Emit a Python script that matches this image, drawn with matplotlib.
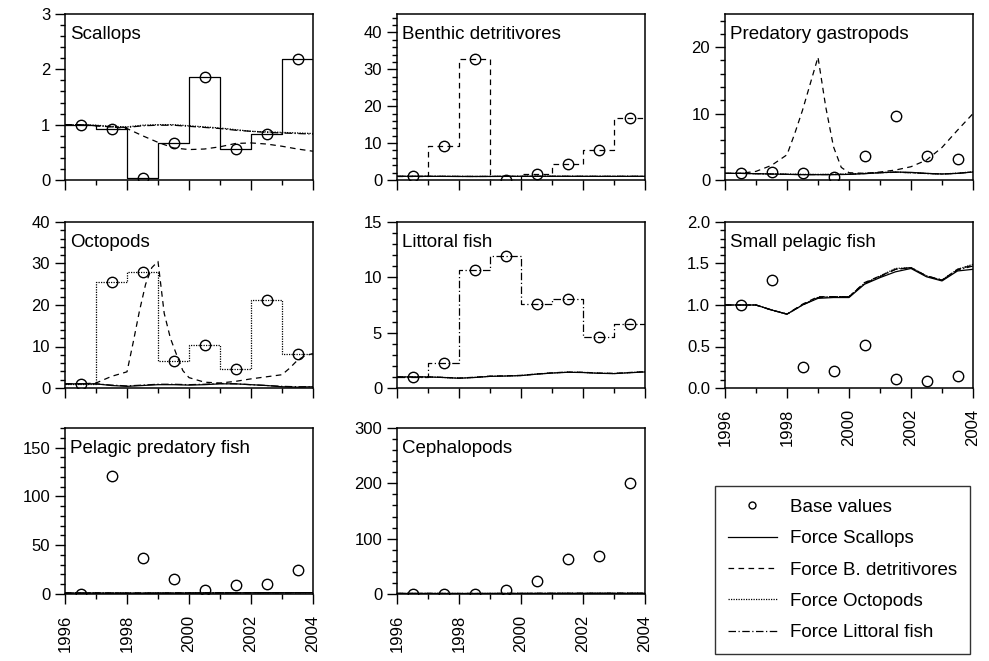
import matplotlib
matplotlib.use("Agg")
import matplotlib.pyplot as plt
from matplotlib.lines import Line2D
from matplotlib.ticker import MultipleLocator, FormatStrFormatter

plt.rcParams['font.family'] = ['Liberation Sans', 'DejaVu Sans']

# time axes
base_years = [1996.5, 1997.5, 1998.5, 1999.5, 2000.5, 2001.5, 2002.5, 2003.5]
step_years = [1996, 1997, 1998, 1999, 2000, 2001, 2002, 2003, 2004]
half_years = [1996, 1996.5, 1997, 1997.5, 1998, 1998.5, 1999, 1999.5, 2000,
              2000.5, 2001, 2001.5, 2002, 2002.5, 2003, 2003.5, 2004]

# base values (circles)
base_scallops = [1.0, 0.93, 0.04, 0.67, 1.87, 0.56, 0.83, 2.18]
base_benthic = [1.0, 9.2, 32.7, 0.1, 1.7, 4.4, 8.1, 16.7]
base_gastro = [1.0, 1.27, 1.1, 0.5, 3.55, 9.6, 3.65, 3.1]
base_octo = [1.0, 25.5, 28.0, 6.5, 10.3, 4.5, 21.3, 8.3]
base_littoral = [1.0, 2.3, 10.7, 11.9, 7.6, 8.0, 4.6, 5.8]
base_smallpel = [1.0, 1.3, 0.25, 0.21, 0.52, 0.11, 0.09, 0.15]
base_pelpred = [0.5, 120.5, 37.0, 15.0, 4.5, 9.0, 10.5, 24.5]
base_cephalo = [0.5, 0.0, 0.0, 7.5, 23.0, 63.0, 69.0, 200.0]

# model runs (half-year samples unless own time list given)
scallops_det = [1.0, 1.0, 0.98, 0.96, 0.93, 0.8, 0.68, 0.58, 0.55, 0.56, 0.6, 0.66, 0.67, 0.65, 0.61, 0.56, 0.52]
scallops_oct = [1.0, 1.0, 0.99, 0.97, 0.96, 0.99, 1.0, 1.0, 0.98, 0.96, 0.94, 0.91, 0.88, 0.87, 0.86, 0.85, 0.84]
scallops_lit = [1.0, 1.0, 0.98, 0.96, 0.95, 0.98, 0.99, 0.99, 0.97, 0.95, 0.93, 0.9, 0.88, 0.86, 0.85, 0.84, 0.83]

benthic_sca = [1.0, 1.0, 1.0, 0.98, 0.96, 0.95, 0.96, 0.98, 1.0, 1.0, 1.0, 1.0, 0.99, 0.98, 0.98, 0.99, 1.0]
benthic_oct = [1.0, 1.0, 1.0, 1.0, 0.98, 0.97, 0.98, 1.0, 1.01, 1.02, 1.02, 1.01, 1.0, 1.0, 1.0, 1.0, 1.0]
benthic_lit = [1.0, 1.0, 1.0, 0.99, 0.97, 0.96, 0.97, 0.99, 1.0, 1.01, 1.01, 1.0, 1.0, 0.99, 0.99, 1.0, 1.0]

gastro_sca = [1.0, 1.0, 0.95, 0.9, 0.85, 0.8, 0.8, 0.8, 0.85, 0.95, 1.1, 1.2, 1.15, 1.0, 0.9, 1.0, 1.2]
gastro_oct = [1.0, 1.0, 0.96, 0.92, 0.88, 0.85, 0.84, 0.85, 0.9, 1.0, 1.12, 1.18, 1.1, 0.98, 0.92, 1.02, 1.25]
gastro_lit = [1.0, 1.0, 0.95, 0.9, 0.86, 0.82, 0.82, 0.83, 0.88, 0.97, 1.1, 1.16, 1.1, 0.97, 0.9, 1.0, 1.22]
gastro_det_t = [1996, 1996.5, 1997, 1997.5, 1998, 1998.25, 1998.5, 1998.75, 1999, 1999.25,
                1999.5, 1999.75, 2000, 2000.5, 2001, 2001.5, 2002, 2002.5, 2003, 2003.5, 2004]
gastro_det = [1.0, 1.0, 1.3, 2.2, 3.8, 7.0, 10.5, 14.5, 18.5, 11.0,
              5.0, 1.9, 1.1, 1.0, 1.2, 1.5, 2.0, 3.0, 4.9, 7.5, 10.0]

octo_sca = [1.0, 1.0, 1.0, 0.6, 0.4, 0.6, 0.8, 0.8, 0.7, 0.8, 1.0, 1.0, 0.8, 0.6, 0.3, 0.2, 0.3]
octo_lit = [1.0, 1.0, 1.0, 0.7, 0.5, 0.7, 0.9, 0.9, 0.8, 0.9, 1.1, 1.0, 0.8, 0.6, 0.4, 0.3, 0.3]
octo_det_t = [1996, 1996.5, 1997, 1997.5, 1998, 1998.2, 1998.4, 1998.6, 1998.8, 1999, 1999.2,
              1999.4, 1999.6, 1999.8, 2000, 2000.5, 2001, 2001.5, 2002, 2002.5, 2003,
              2003.25, 2003.5, 2003.75, 2004]
octo_det = [1.0, 1.0, 1.2, 2.8, 3.9, 11.0, 18.5, 25.0, 29.0, 30.5, 18.0,
            12.0, 8.0, 4.2, 2.5, 1.4, 1.2, 1.6, 2.2, 2.7, 3.2,
            4.8, 6.7, 7.8, 8.3]

litt_sca = [1.0, 1.0, 1.0, 0.95, 0.88, 0.95, 1.05, 1.08, 1.12, 1.25, 1.35, 1.42, 1.4, 1.33, 1.3, 1.38, 1.45]
litt_det = [1.0, 1.0, 1.0, 0.96, 0.9, 0.97, 1.07, 1.1, 1.14, 1.27, 1.37, 1.44, 1.42, 1.35, 1.32, 1.4, 1.48]
litt_oct = [1.0, 1.0, 1.0, 0.95, 0.89, 0.96, 1.06, 1.09, 1.13, 1.26, 1.36, 1.43, 1.41, 1.34, 1.31, 1.39, 1.47]

smallpel_sca = [1.0, 1.0, 1.0, 0.94, 0.89, 1.0, 1.08, 1.09, 1.09, 1.25, 1.33, 1.4, 1.44, 1.34, 1.29, 1.41, 1.43]
smallpel_det = [1.0, 1.0, 1.0, 0.94, 0.89, 1.01, 1.1, 1.1, 1.1, 1.27, 1.35, 1.43, 1.45, 1.35, 1.3, 1.43, 1.48]
smallpel_oct = [1.0, 1.0, 1.0, 0.94, 0.89, 1.0, 1.09, 1.1, 1.1, 1.26, 1.35, 1.44, 1.45, 1.35, 1.3, 1.43, 1.49]
smallpel_lit = [1.0, 1.0, 1.0, 0.94, 0.89, 1.0, 1.09, 1.1, 1.1, 1.26, 1.34, 1.43, 1.45, 1.35, 1.3, 1.42, 1.47]

pelpred_sca = [1.0, 1.0, 1.0, 0.95, 0.9, 0.9, 0.95, 1.0, 1.05, 1.1, 1.15, 1.2, 1.25, 1.3, 1.3, 1.35, 1.4]
pelpred_det = [1.0, 1.0, 1.0, 0.96, 0.92, 0.92, 0.97, 1.02, 1.07, 1.12, 1.17, 1.22, 1.27, 1.32, 1.32, 1.37, 1.42]
pelpred_oct = [1.0, 1.0, 1.0, 0.95, 0.91, 0.91, 0.96, 1.01, 1.06, 1.11, 1.16, 1.21, 1.26, 1.31, 1.31, 1.36, 1.41]
pelpred_lit = [1.0, 1.0, 1.0, 0.95, 0.9, 0.9, 0.95, 1.0, 1.05, 1.1, 1.15, 1.2, 1.25, 1.3, 1.3, 1.35, 1.4]

cephalo_sca = [1.0, 1.0, 1.0, 0.95, 0.9, 0.92, 0.96, 1.0, 1.05, 1.1, 1.15, 1.2, 1.22, 1.25, 1.28, 1.3, 1.32]
cephalo_det = [1.0, 1.0, 1.0, 0.96, 0.92, 0.94, 0.98, 1.02, 1.07, 1.12, 1.17, 1.22, 1.24, 1.27, 1.3, 1.32, 1.35]
cephalo_oct = [1.0, 1.0, 1.0, 0.95, 0.91, 0.93, 0.97, 1.01, 1.06, 1.11, 1.16, 1.21, 1.23, 1.26, 1.29, 1.31, 1.33]
cephalo_lit = [1.0, 1.0, 1.0, 0.95, 0.9, 0.92, 0.96, 1.0, 1.05, 1.1, 1.15, 1.2, 1.22, 1.25, 1.28, 1.3, 1.32]

# line styles for the four forcing runs
ls_sca = '-'
ls_det = (0, (4.5, 3.5))
ls_oct = (0, (1, 1))
ls_lit = (0, (6, 2, 1, 2))

lw = 0.9
fs_tick = 12
fs_lab = 13.5

W, H = 989, 661
col_left = [65, 397, 725]
row_top = [14, 222, 428]
aw, ah = 248, 166


def make_ax(r, c):
    x0 = col_left[c] / W
    y0 = 1 - (row_top[r] + ah) / H
    return fig.add_axes([x0, y0, aw / W, ah / H])


def style_ax(ax, ymax, major, minor, xlabels):
    ax.set_xlim(1996, 2004)
    ax.set_ylim(0, ymax)
    ax.xaxis.set_major_locator(MultipleLocator(2))
    ax.xaxis.set_minor_locator(MultipleLocator(1))
    ax.yaxis.set_major_locator(MultipleLocator(major))
    ax.yaxis.set_minor_locator(MultipleLocator(minor))
    ax.tick_params(which='major', direction='out', length=7.2, width=1.0,
                   labelsize=fs_tick)
    ax.tick_params(which='minor', direction='out', length=3.6, width=1.0)
    ax.tick_params(axis='y', pad=3.5)
    ax.tick_params(axis='x', pad=8)
    for s in ax.spines.values():
        s.set_linewidth(1.1)
    if xlabels:
        ax.set_xticks([1996, 1998, 2000, 2002, 2004])
        ax.set_xticklabels(['1996', '1998', '2000', '2002', '2004'],
                           rotation=90, va='top')
    else:
        ax.tick_params(axis='x', labelbottom=False)


def add_base(ax, vals):
    ax.plot(base_years, vals, linestyle='none', marker='o', markersize=7.5,
            markerfacecolor='none', markeredgecolor='black', markeredgewidth=1.0,
            zorder=5)


def add_step(ax, vals, ls):
    ax.plot(step_years, vals + [vals[-1]], drawstyle='steps-post',
            color='black', lw=lw, linestyle=ls)


def add_line(ax, x, vals, ls):
    ax.plot(x, vals, color='black', lw=lw, linestyle=ls)


def add_label(ax, text):
    ax.text(0.022, 0.85, text, transform=ax.transAxes, fontsize=fs_lab,
            va='baseline', ha='left')


fig = plt.figure(figsize=(9.89, 6.61), dpi=100)

# Scallops
ax = make_ax(0, 0)
add_step(ax, base_scallops, ls_sca)
add_line(ax, half_years, scallops_det, ls_det)
add_line(ax, half_years, scallops_oct, ls_oct)
add_line(ax, half_years, scallops_lit, ls_lit)
add_base(ax, base_scallops)
style_ax(ax, 3, 1, 0.2, False)
add_label(ax, 'Scallops')

# Benthic detritivores
ax = make_ax(0, 1)
add_line(ax, half_years, benthic_sca, ls_sca)
add_step(ax, base_benthic, ls_det)
add_line(ax, half_years, benthic_oct, ls_oct)
add_line(ax, half_years, benthic_lit, ls_lit)
add_base(ax, base_benthic)
style_ax(ax, 45, 10, 2, False)
add_label(ax, 'Benthic detritivores')

# Predatory gastropods
ax = make_ax(0, 2)
add_line(ax, half_years, gastro_sca, ls_sca)
add_line(ax, gastro_det_t, gastro_det, ls_det)
add_line(ax, half_years, gastro_oct, ls_oct)
add_line(ax, half_years, gastro_lit, ls_lit)
add_base(ax, base_gastro)
style_ax(ax, 25, 10, 2, False)
add_label(ax, 'Predatory gastropods')

# Octopods
ax = make_ax(1, 0)
add_line(ax, half_years, octo_sca, ls_sca)
add_line(ax, octo_det_t, octo_det, ls_det)
add_step(ax, base_octo, ls_oct)
add_line(ax, half_years, octo_lit, ls_lit)
add_base(ax, base_octo)
style_ax(ax, 40, 10, 2, False)
add_label(ax, 'Octopods')

# Littoral fish
ax = make_ax(1, 1)
add_line(ax, half_years, litt_sca, ls_sca)
add_line(ax, half_years, litt_det, ls_det)
add_line(ax, half_years, litt_oct, ls_oct)
add_step(ax, base_littoral, ls_lit)
add_base(ax, base_littoral)
style_ax(ax, 15, 5, 1, False)
add_label(ax, 'Littoral fish')

# Small pelagic fish
ax = make_ax(1, 2)
add_line(ax, half_years, smallpel_sca, ls_sca)
add_line(ax, half_years, smallpel_det, ls_det)
add_line(ax, half_years, smallpel_oct, ls_oct)
add_line(ax, half_years, smallpel_lit, ls_lit)
add_base(ax, base_smallpel)
style_ax(ax, 2.0, 0.5, 0.1, True)
ax.yaxis.set_major_formatter(FormatStrFormatter('%.1f'))
add_label(ax, 'Small pelagic fish')

# Pelagic predatory fish
ax = make_ax(2, 0)
add_line(ax, half_years, pelpred_sca, ls_sca)
add_line(ax, half_years, pelpred_det, ls_det)
add_line(ax, half_years, pelpred_oct, ls_oct)
add_line(ax, half_years, pelpred_lit, ls_lit)
add_base(ax, base_pelpred)
style_ax(ax, 170, 50, 10, True)
add_label(ax, 'Pelagic predatory fish')

# Cephalopods
ax = make_ax(2, 1)
add_line(ax, half_years, cephalo_sca, ls_sca)
add_line(ax, half_years, cephalo_det, ls_det)
add_line(ax, half_years, cephalo_oct, ls_oct)
add_line(ax, half_years, cephalo_lit, ls_lit)
add_base(ax, base_cephalo)
style_ax(ax, 300, 100, 20, True)
add_label(ax, 'Cephalopods')

# legend
handles = [
    Line2D([], [], linestyle='none', marker='o', markersize=5, markerfacecolor='none',
           markeredgecolor='black', markeredgewidth=1.0),
    Line2D([], [], color='black', lw=lw, linestyle=ls_sca),
    Line2D([], [], color='black', lw=lw, linestyle=ls_det),
    Line2D([], [], color='black', lw=lw, linestyle=ls_oct),
    Line2D([], [], color='black', lw=lw, linestyle=ls_lit),
]
labels = ['Base values', 'Force Scallops', 'Force B. detritivores',
          'Force Octopods', 'Force Littoral fish']
leg = fig.legend(handles, labels, loc='upper left',
                 bbox_to_anchor=(715 / W, 1 - 486 / H), borderaxespad=0,
                 fontsize=fs_lab, frameon=True, fancybox=False, edgecolor='black',
                 handlelength=2.6, handletextpad=0.7, labelspacing=0.76,
                 borderpad=0.68)
leg.get_frame().set_linewidth(1.0)

fig.savefig('out.png', dpi=100)
